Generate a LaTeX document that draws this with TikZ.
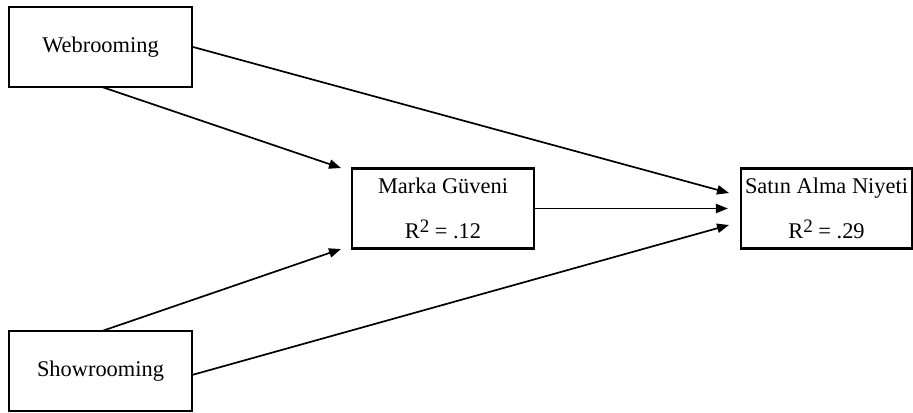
\documentclass[tikz,border=0pt]{standalone}
\usepackage{fontspec}
\setmainfont{Liberation Serif}
\usetikzlibrary{arrows.meta}
\newcommand{\rsq}{R\raisebox{0.55ex}{\fontsize{9.5pt}{10pt}\selectfont 2}}
\begin{document}
\begin{tikzpicture}[x=0.5pt,y=-0.5pt,
  varbox/.style={draw=black,line width=1.1pt,minimum width=91.5pt,minimum height=40pt,
    inner sep=0pt,align=center,font=\fontsize{11.2pt}{13pt}\selectfont},
  path/.style={line width=0.85pt,-{Triangle[length=6pt,width=4.6pt]}}]
\useasboundingbox (0,0) rectangle (913,412);
% variables
\node[varbox] (web) at (100.5,47) {Webrooming};
\node[varbox] (show) at (100.5,371) {Showrooming};
\node[varbox,minimum width=91pt,minimum height=40pt] (mg) at (443,208.5)
  {Marka Güveni\\[9.5pt]\rsq{} = .12};
\node[varbox,minimum width=85.5pt] (si) at (826.5,208.5)
  {Satın Alma Niyeti\\[9.5pt]\rsq{} = .29};
% arrow tips
\coordinate (mgtop) at (341,168);
\coordinate (mgbot) at (341,249);
\coordinate (sitop) at (729,193);
\coordinate (sibot) at (729,225);
\coordinate (showr) at (192,375);
\coordinate (webb) at (102,87);
\coordinate (showt) at (102,331);
% paths
\draw[path] (webb) -- (mgtop);
\draw[path] (showt) -- (mgbot);
\draw[path] (web.east) -- (sitop);
\draw[path] (mg.east) -- ([xshift=-6pt]si.west);
\draw[path] (showr) -- (sibot);
\end{tikzpicture}
\end{document}
